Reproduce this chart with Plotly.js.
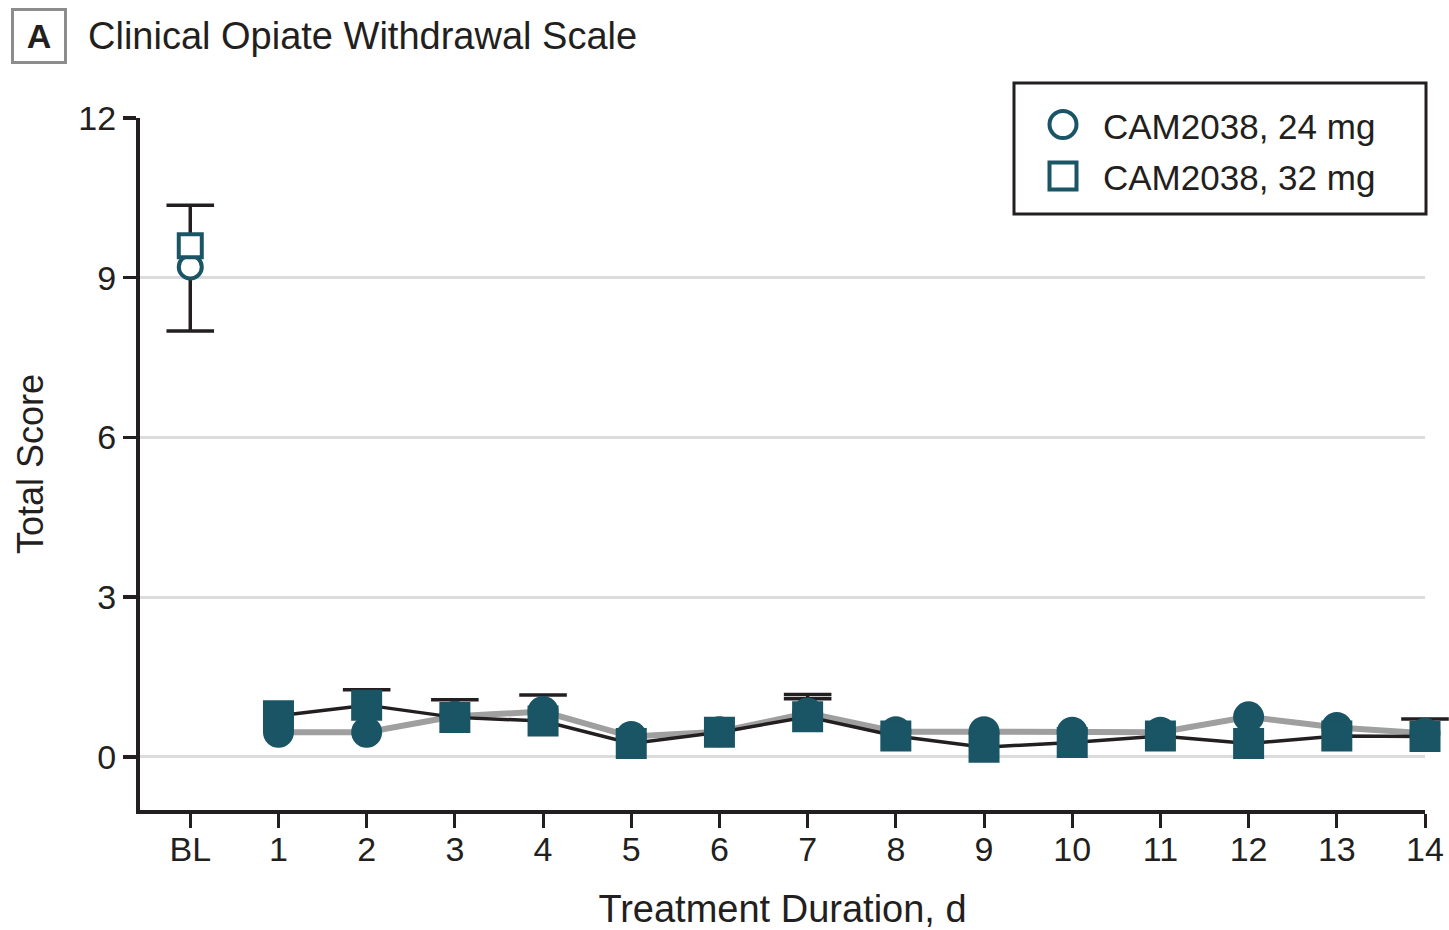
<!DOCTYPE html>
<html>
<head>
<meta charset="utf-8">
<script src="https://cdn.plot.ly/plotly-3.0.1.min.js"></script>
<style>
  html, body { margin: 0; padding: 0; background: #ffffff; }
  #chart { width: 1449px; height: 930px; }
</style>
</head>
<body>
<div id="chart"></div>
<script>
// ---- data ----
const days = ['BL', '1', '2', '3', '4', '5', '6', '7', '8', '9', '10', '11', '12', '13', '14'];
const seriesNames = ['CAM2038, 24 mg', 'CAM2038, 32 mg'];
const score24 = [9.2, 0.46, 0.46, 0.76, 0.85, 0.38, 0.47, 0.82, 0.47, 0.47, 0.46, 0.46, 0.75, 0.55, 0.44];
const score32 = [9.6, 0.77, 0.97, 0.74, 0.67, 0.25, 0.46, 0.75, 0.39, 0.18, 0.27, 0.39, 0.25, 0.39, 0.38];
// error bar extents (null = not shown in the figure)
const err24Plus  = [1.16, null, null, null, 0.31, null, null, 0.35, null, null, null, null, null, null, null];
const err24Minus = [1.2, null, null, null, null, null, null, null, null, null, null, null, null, null, null];
const err32Plus  = [null, null, 0.29, 0.33, null, null, null, 0.34, null, null, null, null, null, null, 0.33];
const err32Minus = [null, null, null, null, null, null, null, null, null, null, null, null, null, null, null];
const yTicks = [0, 3, 6, 9, 12];
const titleText = 'Clinical Opiate Withdrawal Scale';
const panelLetter = 'A';
const xTitle = 'Treatment Duration, d';
const yTitle = 'Total Score';

// ---- style ----
const TEAL = '#1a5565';
const DARK = '#231f20';
const GRAY = '#a09f9f';
const FONT = 'Liberation Sans, Arial, Helvetica, sans-serif';

// plot-area pixel frame (for layout-only helpers)
const PL = 140, PR = 1425, PT = 118, PB = 810;
const px = x => (x - PL) / (PR - PL);
const py = y => (PB - y) / (PB - PT);

// Error bars built from the data arrays as ordinary traces (stems + caps),
// placed before the marker traces so the markers are drawn on top of them.
function errStems(name, y, plus, minus) {
  const xs = [], ys = [];
  days.forEach((d, i) => {
    if (plus[i] == null && minus[i] == null) return;
    const lo = minus[i] == null ? y[i] : y[i] - minus[i];
    const hi = plus[i] == null ? y[i] : y[i] + plus[i];
    xs.push(d, d, null); ys.push(lo, hi, null);
  });
  return { x: xs, y: ys, name: name, type: 'scatter', mode: 'lines', cliponaxis: false,
           showlegend: false, hoverinfo: 'skip', line: { color: DARK, width: 3.5 } };
}
function errCaps(name, y, plus, minus) {
  const xs = [], ys = [];
  days.forEach((d, i) => {
    if (plus[i] != null) { xs.push(d); ys.push(y[i] + plus[i]); }
    if (minus[i] != null) { xs.push(d); ys.push(y[i] - minus[i]); }
  });
  return { x: xs, y: ys, name: name, type: 'scatter', mode: 'markers', cliponaxis: false,
           showlegend: false, hoverinfo: 'skip',
           marker: { symbol: 'line-ew', size: 34, color: DARK, line: { color: DARK, width: 3.5 } } };
}

const traces = [
  errStems(seriesNames[0], score24, err24Plus, err24Minus),
  errCaps(seriesNames[0], score24, err24Plus, err24Minus),
  errStems(seriesNames[1], score32, err32Plus, err32Minus),
  errCaps(seriesNames[1], score32, err32Plus, err32Minus),
  { // baseline 24 mg
    x: days.slice(0, 1), y: score24.slice(0, 1), name: seriesNames[0],
    type: 'scatter', mode: 'markers', cliponaxis: false, showlegend: false,
    marker: { symbol: 'circle', size: 23, color: '#ffffff', line: { color: TEAL, width: 4 } }
  },
  { // baseline 32 mg
    x: days.slice(0, 1), y: score32.slice(0, 1), name: seriesNames[1],
    type: 'scatter', mode: 'markers', cliponaxis: false, showlegend: false,
    marker: { symbol: 'square', size: 23, color: '#ffffff', line: { color: TEAL, width: 4 } }
  },
  { // treatment days 24 mg
    x: days.slice(1), y: score24.slice(1), name: seriesNames[0],
    type: 'scatter', mode: 'lines+markers', cliponaxis: false, showlegend: false,
    line: { color: GRAY, width: 6 },
    marker: { symbol: 'circle', size: 29, color: TEAL, line: { color: TEAL, width: 2 } }
  },
  { // treatment days 32 mg
    x: days.slice(1), y: score32.slice(1), name: seriesNames[1],
    type: 'scatter', mode: 'lines+markers', cliponaxis: false, showlegend: false,
    line: { color: DARK, width: 3.5 },
    marker: { symbol: 'square', size: 29, color: TEAL, line: { color: TEAL, width: 2 } }
  }
];

const layout = {
  width: 1449, height: 930,
  margin: { l: PL, r: 1449 - PR, t: PT, b: 930 - PB, pad: 0 },
  paper_bgcolor: '#ffffff', plot_bgcolor: '#ffffff',
  font: { family: FONT, color: DARK, size: 34 },
  showlegend: false,
  title: {
    text: titleText, font: { family: FONT, size: 38, color: DARK },
    xref: 'container', yref: 'container', x: 88 / 1449, xanchor: 'left',
    y: 1 - 36 / 930, yanchor: 'middle'
  },
  xaxis: {
    type: 'category', categoryorder: 'array', categoryarray: days,
    range: [-0.57, 14], showgrid: false, zeroline: false,
    showline: true, linecolor: DARK, linewidth: 4,
    ticks: 'outside', ticklen: 14, tickwidth: 3, tickcolor: DARK,
    ticklabelstandoff: -8,
    tickfont: { family: FONT, size: 34, color: DARK },
    title: { text: xTitle, font: { family: FONT, size: 38, color: DARK }, standoff: 44 },
    fixedrange: true
  },
  yaxis: {
    range: [-1, 12], tickvals: yTicks, ticktext: yTicks.map(String),
    showgrid: true, gridcolor: '#dcdcdc', gridwidth: 3, zeroline: false,
    showline: true, linecolor: DARK, linewidth: 4,
    ticks: 'outside', ticklen: 13, tickwidth: 3.5, tickcolor: DARK,
    tickfont: { family: FONT, size: 34, color: DARK },
    title: { text: yTitle, font: { family: FONT, size: 36, color: DARK }, standoff: 25 },
    fixedrange: true
  },
  shapes: [
    // legend frame
    { type: 'rect', xref: 'paper', yref: 'paper', x0: px(1014), x1: px(1426), y0: py(214), y1: py(83),
      line: { color: DARK, width: 3 }, fillcolor: '#ffffff', layer: 'above' },
    // legend symbols
    { type: 'circle', xref: 'paper', yref: 'paper', x0: px(1049.5), x1: px(1076.5), y0: py(138), y1: py(111),
      line: { color: TEAL, width: 4 }, fillcolor: '#ffffff', layer: 'above' },
    { type: 'rect', xref: 'paper', yref: 'paper', x0: px(1049.5), x1: px(1076.5), y0: py(189.5), y1: py(162.5),
      line: { color: TEAL, width: 4 }, fillcolor: '#ffffff', layer: 'above' }
  ],
  annotations: [
    { text: '<b>' + panelLetter + '</b>', xref: 'paper', yref: 'paper', x: px(39), y: py(36),
      xanchor: 'center', yanchor: 'middle', showarrow: false,
      font: { family: FONT, size: 34, color: DARK },
      width: 44, height: 44, bordercolor: '#8c8c8c', borderwidth: 3, borderpad: 3, bgcolor: '#ffffff' },
    { text: seriesNames[0], xref: 'paper', yref: 'paper', x: px(1101), y: py(126),
      xanchor: 'left', yanchor: 'middle', showarrow: false, font: { family: FONT, size: 35, color: DARK } },
    { text: seriesNames[1], xref: 'paper', yref: 'paper', x: px(1101), y: py(177),
      xanchor: 'left', yanchor: 'middle', showarrow: false, font: { family: FONT, size: 35, color: DARK } }
  ]
};

Plotly.newPlot('chart', traces, layout, { displayModeBar: false, staticPlot: true });
</script>
</body>
</html>
